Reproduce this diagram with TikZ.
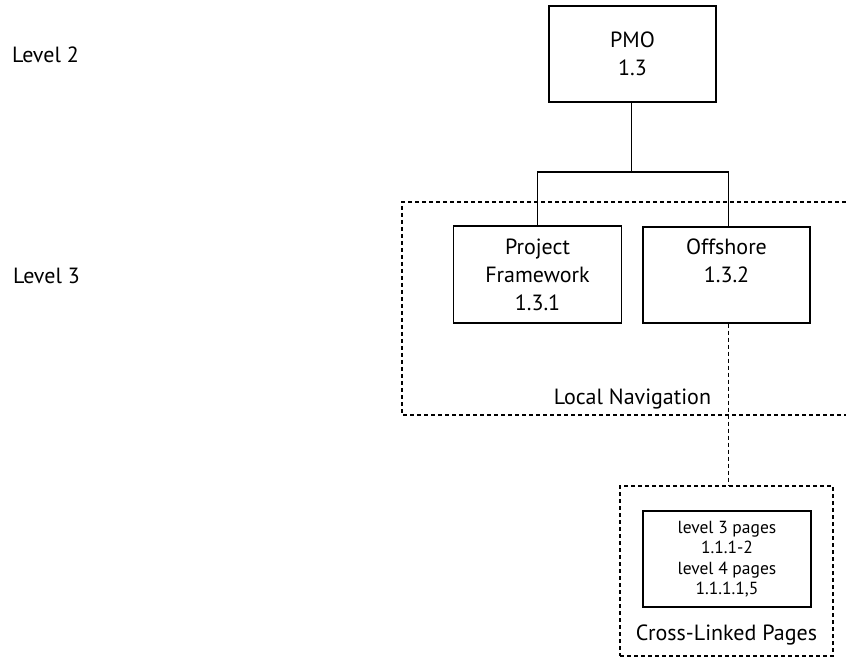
\documentclass[tikz,border=0pt]{standalone}
\usepackage{fontspec}
\setmainfont{PT Sans}
\usetikzlibrary{positioning, calc}

\tikzset{
    pagebox/.style={draw, line width=1.4pt, align=center, inner sep=0pt,
        minimum width=167pt, minimum height=96pt, font=\fontsize{22}{28}\selectfont},
    listbox/.style={pagebox, font=\fontsize{17.5}{20.5}\selectfont},
    linkline/.style={line width=1.6pt},
    groupline/.style={line width=1.5pt, dash pattern=on 4pt off 3pt},
    grouplabel/.style={font=\fontsize{22}{25}\selectfont, inner sep=0pt},
    levellabel/.style={grouplabel, anchor=west}
}

\begin{document}
\begin{tikzpicture}[x=1pt, y=-1pt]
    \useasboundingbox (0,0) rectangle (846,660);

    \node[levellabel] (lvltwo) at (12,55) {Level 2};
    \node[levellabel] (lvlthree) at (13,276) {Level 3};

    \node[pagebox] (pmo) at (632.5,54) {PMO\\1.3};
    \node[pagebox, minimum width=168pt, minimum height=97pt] (proj) at (537.5,274.5) {Project\\Framework\\1.3.1};
    \node[pagebox] (offshore) at (726.5,275) {Offshore\\1.3.2\\~};

    \draw[groupline] (846,202) -- (402,202) -- (402,415) -- (846,415);
    \node[grouplabel] (localnav) at (632.5,399) {Local Navigation};

    \coordinate (split) at (631.5,172);
    \coordinate (drop) at (728.5,0);
    \draw[linkline] (split |- pmo.south) -- (split);
    \draw[linkline] (proj.north) |- (split) -| ($(offshore.north)+(2,0)$);

    \node[draw, groupline, minimum width=213pt, minimum height=170pt, inner sep=0pt] (crosslink) at (726.5,571) {};
    \node[listbox, minimum width=168pt] (pagelist) at (727,559) {level 3 pages\\1.1.1-2\\level 4 pages\\1.1.1.1,5};
    \node[grouplabel] (crosslabel) at (726.5,635) {Cross-Linked Pages};

    \draw[groupline] (drop |- offshore.south) -- (drop |- crosslink.north);
\end{tikzpicture}
\end{document}
